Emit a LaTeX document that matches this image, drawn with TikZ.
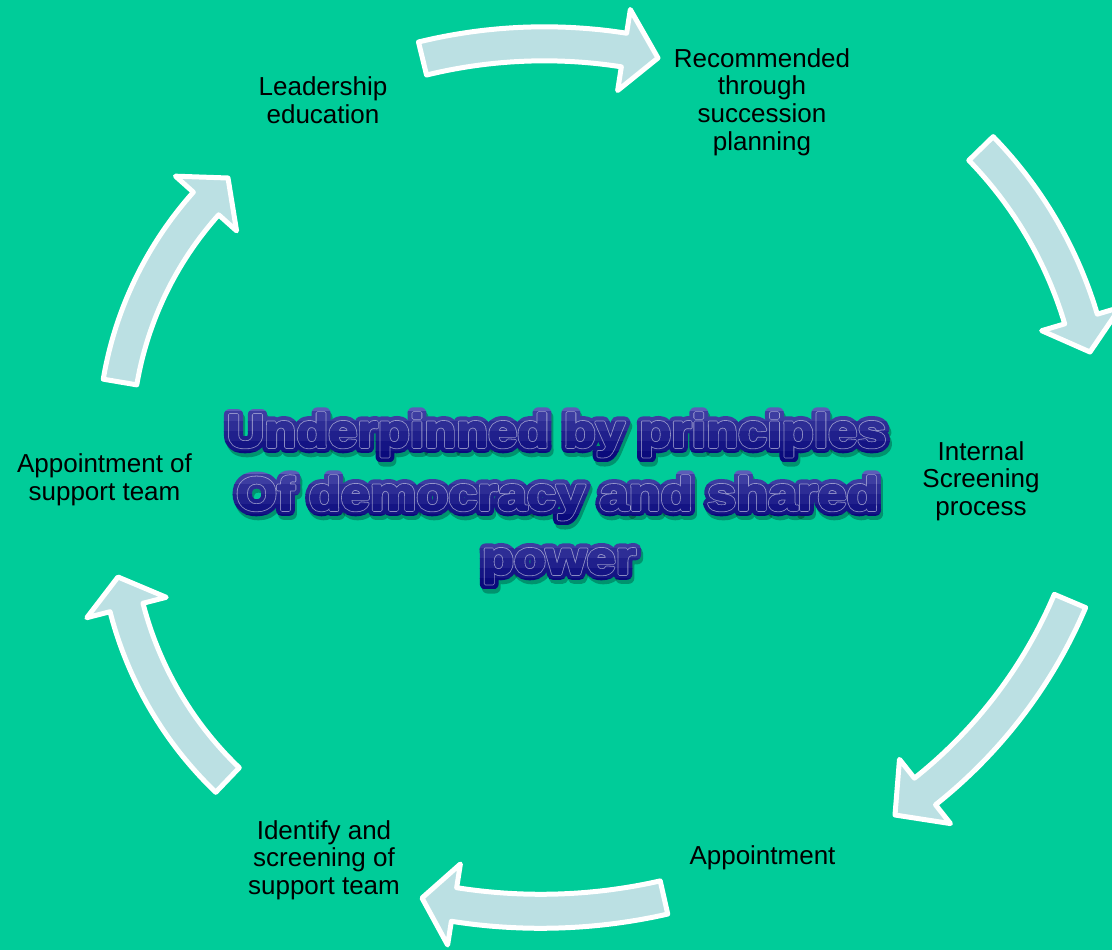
\documentclass[tikz,border=0pt]{standalone}
\usepackage{fontspec}
\setmainfont{Liberation Sans}
% heavy, widened display face for the central caption
\newfontfamily\waouter{Liberation Sans Bold}[FakeStretch=1.12, FakeBold=25]
\newfontfamily\wacore{Liberation Sans Bold}[FakeStretch=1.12, FakeBold=4]
\newfontfamily\warim{Liberation Sans Bold}[FakeStretch=1.12, FakeBold=7.5]
\definecolor{bggreen}{RGB}{0,204,153}
\definecolor{arrowfill}{RGB}{187,224,227}
\definecolor{waTop}{RGB}{92,92,184}
\definecolor{waBot}{RGB}{10,10,124}

\tikzset{
  lbl/.style={align=center, inner sep=0pt, text=black,
    font=\fontsize{26}{27.7}\selectfont},
  wa/.style={anchor=base, inner sep=0pt,
    font=\fontsize{46.7}{60}\selectfont},
  cyclearrowstyle/.style={fill=arrowfill, draw=white, line width=5pt,
    line join=round}
}

\newcommand\arrowbw{17}
\newcommand\arrowhw{41}

% Curved block arrow along a circular arc.
% #1,#2 tail centre; #3,#4 centre of the head base; #5,#6 tip; #7 bulge (sagitta)
\newcommand\cyclearrow[7]{%
  \edef\caC{\fpeval{sqrt((#3-#1)^2+(#4-#2)^2)}}%
  \edef\caR{\fpeval{round(\caC*\caC/(8*#7)+#7/2,3)}}%
  \edef\caNx{\fpeval{(#4-#2)/\caC}}%
  \edef\caNy{\fpeval{-(#3-#1)/\caC}}%
  \edef\caX{\fpeval{round((#1+#3)/2-\caNx*(\caR-#7),3)}}%
  \edef\caY{\fpeval{round((#2+#4)/2-\caNy*(\caR-#7),3)}}%
  \edef\caT{\fpeval{round(atand(#2-\caY,#1-\caX),3)}}%
  \edef\caB{\fpeval{round(atand(#4-\caY,#3-\caX),3)}}%
  \edef\caB{\fpeval{\caB<\caT ? \caB+360 : \caB}}%
  \draw[cyclearrowstyle]
    plot[domain=\caT:\caB,samples=40]
      ({\caX+(\caR+\arrowbw)*cos(\x)},{\caY+(\caR+\arrowbw)*sin(\x)})
    -- ({\caX+(\caR+\arrowhw)*cos(\caB)},{\caY+(\caR+\arrowhw)*sin(\caB)})
    -- (#5,#6)
    -- ({\caX+(\caR-\arrowhw)*cos(\caB)},{\caY+(\caR-\arrowhw)*sin(\caB)})
    -- plot[domain=\caB:\caT,samples=40]
      ({\caX+(\caR-\arrowbw)*cos(\x)},{\caY+(\caR-\arrowbw)*sin(\x)})
    -- cycle;
}

% One line of the central caption: soft shadow, thick rounded outline,
% thin light rim and core, shaded from light blue (top) to navy (bottom)
\newcommand\wordartline[4]{%
  \begin{scope}[line join=round, line cap=round]
    \node[wa, text=black, opacity=0.28] (#4-sh) at (#1+2,#2+4) {\waouter #3};
    \foreach \k in {0,...,5}{
      \pgfmathsetmacro\pc{100*(\k/5)^0.6}
      \colorlet{slicecol}{waBot!\pc!waTop}
      \begin{scope}
        \clip ({#1-420},{#2-45+\k*9.8}) rectangle ({#1+420},{#2-45+(\k+1)*9.8+0.4});
        \node[wa, text=slicecol] (#4-o-\k) at (#1,#2) {\waouter #3};
        \node[wa, text=white, opacity=0.5] (#4-r-\k) at (#1,#2) {\warim #3};
        \node[wa, text=slicecol] (#4-c-\k) at (#1,#2) {\wacore #3};
      \end{scope}
    }
  \end{scope}
}

\begin{document}
\begin{tikzpicture}[x=1pt,y=-1pt]
  \fill[bggreen] (0,0) rectangle (1112,950);
  \useasboundingbox (0,0) rectangle (1112,950);

  \begin{scope}
    \clip (0,0) rectangle (1112,950);
    \cyclearrow{422.5}{58.5}{624}{50}{658}{58}{10}
    \cyclearrow{981}{148.5}{1081}{319}{1090}{352}{12}
    \cyclearrow{1070}{601}{925}{791.5}{895}{815}{15}
    \cyclearrow{664}{897.5}{454}{904.5}{422}{898}{10}
    \cyclearrow{227.5}{780}{126.5}{607.5}{118}{577}{14}
    \cyclearrow{120}{382}{206}{203.5}{228}{178}{14}
  \end{scope}

  % stage labels
  \node[lbl] (lead)    at (323,100)   {Leadership\\education};
  \node[lbl] (recom)   at (762,102)   {Recommended\\through\\succession\\planning};
  \node[lbl] (screen)  at (981,481)   {Internal\\Screening\\process};
  \node[lbl] (appt)    at (762.5,858) {Appointment};
  \node[lbl] (ident)   at (324,860)   {Identify and\\screening of\\support team};
  \node[lbl] (apptsup) at (104.5,480) {Appointment of\\support team};

  % central caption
  \wordartline{556.5}{447}{Underpinned by principles}{capA}
  \wordartline{557.5}{510}{Of democracy and shared}{capB}
  \wordartline{559}{574}{power}{capC}
\end{tikzpicture}
\end{document}
